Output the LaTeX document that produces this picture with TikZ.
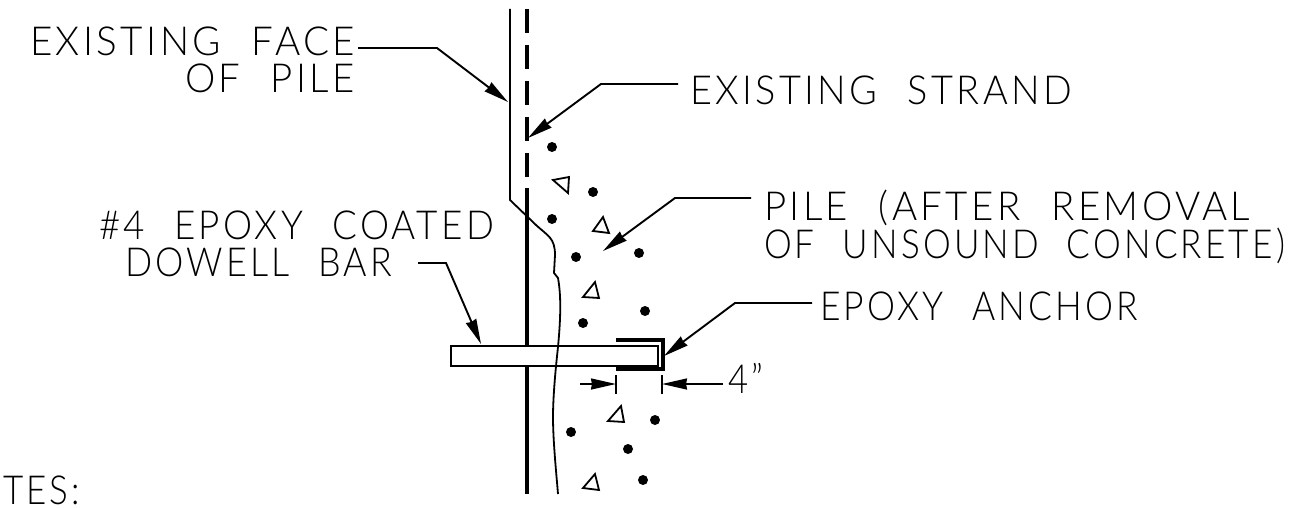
\documentclass[tikz,border=0pt]{standalone}
\usepackage{fontspec}
\usepackage{graphicx}
\setmainfont{Lato}[UprightFont=* Light,WordSpace=2.2,LetterSpace=9]
\usetikzlibrary{arrows.meta}
\tikzset{
  lead/.style={line width=1.9pt,line join=miter,-{Stealth[length=25pt,width=11pt,inset=1pt]}},
  thickbar/.style={line width=4pt},
  anchorline/.style={line width=3.8pt,line join=miter},
  thinline/.style={line width=1.8pt},
  dot/.style={circle,fill=black,draw=none,minimum size=10pt,inner sep=0pt},
  tri/.style={line width=1.8pt,line join=miter},
  lbl/.style={anchor=base west,inner sep=0pt,outer sep=0pt,font=\fontsize{40}{40}\selectfont}
}
\newcommand{\fit}[2]{\resizebox{#1pt}{\height}{#2}}
\begin{document}
\begin{tikzpicture}[x=1pt,y=-1pt]
\useasboundingbox (0,0) rectangle (1308,508);
% labels
\node[lbl] (t1) at (30,56) {\fit{325}{EXISTING FACE}};
\node[lbl] (t2) at (185,93) {\fit{170}{OF PILE}};
\node[lbl] (t3) at (690,105) {\fit{382}{EXISTING STRAND}};
\node[lbl] (t4) at (764,220) {\fit{486}{PILE (AFTER REMOVAL}};
\node[lbl] (t5) at (764,258) {\fit{521}{OF UNSOUND CONCRETE)}};
\node[lbl] (t6) at (99,239) {\fit{395}{\#4 EPOXY COATED}};
\node[lbl] (t7) at (125,276) {\fit{267}{DOWELL BAR}};
\node[lbl] (t8) at (820,320) {\fit{318}{EPOXY ANCHOR}};
\node[lbl] (t9) at (728,393) {\fit{35}{4\symbol{34}}};
\node[lbl] (t10) at (3,504) {\fit{77}{TES:}};
% existing strand (dashed part then solid)
\coordinate (s0) at (527,9);
\coordinate (s1) at (527,188);
\coordinate (s2) at (527,494);
\draw[thickbar,dash pattern=on 24pt off 12pt] (s0) -- (s1);
\draw[thickbar] (s1) -- (s2);
% dowel bar
\node[draw,line width=1.8pt,fill=white,minimum width=207pt,minimum height=20pt,inner sep=0pt,anchor=north west] (bar) at (450,345) {};
% face of pile / broken line
\coordinate (f0) at (510,9);
\coordinate (f1) at (510,200);
\draw[thinline,line join=round] (f0) -- (f1) -- (536,225)
  .. controls (548,236) and (555,238) .. (555,255)
  -- (554,273) -- (558,278)
  .. controls (561,295) and (561,315) .. (558,347)
  .. controls (556,365) and (553,395) .. (553,417)
  .. controls (553,440) and (556,470) .. (558,494);
% epoxy anchor
\coordinate (a0) at (616,340);
\coordinate (a1) at (663,340);
\coordinate (a2) at (663,369);
\coordinate (a3) at (616,369);
\draw[anchorline] (a0) -- (a1) -- (a2) -- (a3);
% leaders
\coordinate (l1a) at (358,48); \coordinate (l1b) at (437,48); \coordinate (l1c) at (508,102);
\draw[lead] (l1a) -- (l1b) -- (l1c);
\coordinate (l2a) at (678,84); \coordinate (l2b) at (601,84); \coordinate (l2c) at (528,138);
\draw[lead] (l2a) -- (l2b) -- (l2c);
\coordinate (l3a) at (751,198); \coordinate (l3b) at (675,198); \coordinate (l3c) at (603,251);
\draw[lead] (l3a) -- (l3b) -- (l3c);
\coordinate (l4a) at (418,263); \coordinate (l4b) at (446,263); \coordinate (l4c) at (481,344);
\draw[lead] (l4a) -- (l4b) -- (l4c);
\coordinate (l5a) at (812,303); \coordinate (l5b) at (735,303); \coordinate (l5c) at (664,356);
\draw[lead] (l5a) -- (l5b) -- (l5c);
% dimension
\coordinate (d1) at (616,375); \coordinate (d2) at (616,394);
\coordinate (d3) at (662,375); \coordinate (d4) at (662,394);
\draw[thinline] (d1) -- (d2);
\draw[thinline] (d3) -- (d4);
\coordinate (d5) at (580,384); \coordinate (d6) at (616,384);
\coordinate (d7) at (723,384); \coordinate (d8) at (662,384);
\draw[lead] (d5) -- (d6);
\draw[lead] (d7) -- (d8);
% aggregate dots
\foreach \n/\x/\y in {1/552/147,2/593/192,3/552/219,4/639/253,5/576/257,6/645/311,7/583/323,8/655/420,9/571/432,10/628/449,11/643/480}
  \node[dot] (dot\n) at (\x,\y) {};
% aggregate triangles
\draw[tri] (553,180) -- (569,177) -- (568,193) -- cycle;
\draw[tri] (603,217) -- (609,233) -- (593,231) -- cycle;
\draw[tri] (595,282) -- (599,298) -- (583,297) -- cycle;
\draw[tri] (621,406) -- (624,422) -- (608,421) -- cycle;
\draw[tri] (595,474) -- (599,490) -- (583,488) -- cycle;
\end{tikzpicture}
\end{document}
